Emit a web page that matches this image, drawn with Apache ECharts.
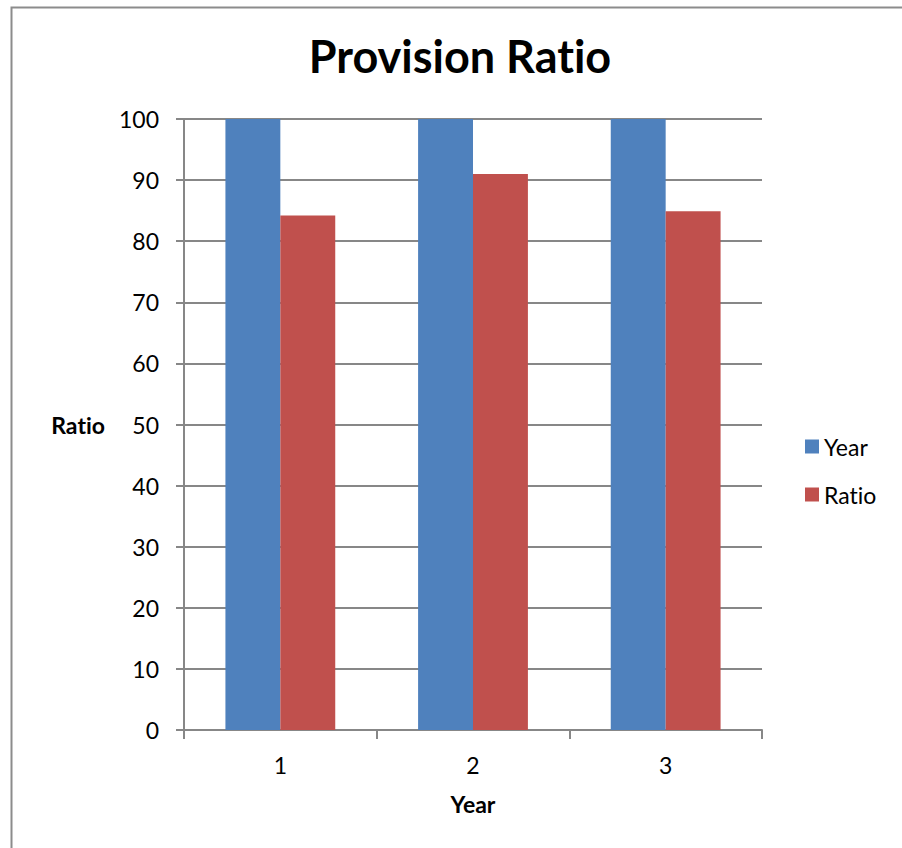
<!DOCTYPE html>
<html>
<head>
<meta charset="utf-8">
<style>
  html, body { margin: 0; padding: 0; background: #fff; }
  #chart { width: 902px; height: 848px; }
  #chart text { font-variant-ligatures: none; font-feature-settings: "liga" 0, "clig" 0; }
</style>
<script src="https://cdn.jsdelivr.net/npm/echarts@6/dist/echarts.min.js"></script>
</head>
<body>
<div id="chart"></div>
<script>
// Category labels along the horizontal axis
const categories = ['1', '2', '3'];
// "Year" series holds calendar years, far above the 0-100 scale, so the bars run off the top
const yearValues = [2009, 2010, 2011];
// Provision ratio per year
const ratioValues = [84.2, 91.0, 84.9];
// Value axis ticks
const yTicks = { min: 0, max: 100, interval: 10 };

const FONT = 'Lato, "Liberation Sans", sans-serif';
const GRID_GREY = '#878787';

const chart = echarts.init(document.getElementById('chart'), null, { renderer: 'svg' });

chart.setOption({
  animation: false,
  backgroundColor: '#ffffff',
  graphic: [{
    type: 'rect',
    shape: { x: 11.5, y: 7.5, width: 1000, height: 1000 },
    style: { fill: 'none', stroke: '#8c8c8c', lineWidth: 2 },
    silent: true
  }],
  title: {
    text: 'Provision Ratio',
    left: 455,
    top: 28,
    textAlign: 'center',
    textStyle: { fontFamily: FONT, fontSize: 45, fontWeight: 'bold', color: '#000' }
  },
  legend: {
    orient: 'vertical',
    left: 805,
    top: 435,
    padding: 0,
    itemWidth: 14,
    itemHeight: 14,
    itemGap: 25,
    icon: 'rect',
    textStyle: { fontFamily: FONT, fontSize: 23, color: '#000' },
    data: ['Year', 'Ratio']
  },
  grid: { left: 184, right: 140, top: 119, bottom: 118, containLabel: false },
  xAxis: {
    type: 'category',
    data: categories,
    name: 'Year',
    nameLocation: 'middle',
    nameGap: 62,
    nameTextStyle: { fontFamily: FONT, fontSize: 23, fontWeight: 'bold', color: '#000' },
    axisLine: { lineStyle: { color: GRID_GREY, width: 2 } },
    axisTick: { show: true, length: 9, alignWithLabel: false, lineStyle: { color: GRID_GREY, width: 2 } },
    axisLabel: { fontFamily: FONT, fontSize: 23, color: '#000', margin: 23 },
    splitLine: { show: false }
  },
  yAxis: {
    type: 'value',
    min: yTicks.min,
    max: yTicks.max,
    interval: yTicks.interval,
    name: 'Ratio',
    nameLocation: 'middle',
    nameRotate: 0,
    nameGap: 79,
    nameTextStyle: { fontFamily: FONT, fontSize: 23, fontWeight: 'bold', color: '#000' },
    axisLine: { show: true, lineStyle: { color: GRID_GREY, width: 2 } },
    axisTick: { show: true, length: 8, lineStyle: { color: GRID_GREY, width: 2 } },
    axisLabel: { fontFamily: FONT, fontSize: 23, color: '#000', margin: 25 },
    splitLine: { show: true, lineStyle: { color: GRID_GREY, width: 2 } }
  },
  series: [
    {
      name: 'Year',
      type: 'bar',
      data: yearValues,
      clip: true,
      barGap: '0%',
      barCategoryGap: '43%',
      itemStyle: { color: '#4F81BD' }
    },
    {
      name: 'Ratio',
      type: 'bar',
      data: ratioValues,
      clip: true,
      barGap: '0%',
      barCategoryGap: '43%',
      itemStyle: { color: '#C0504D' }
    }
  ]
});
</script>
</body>
</html>
